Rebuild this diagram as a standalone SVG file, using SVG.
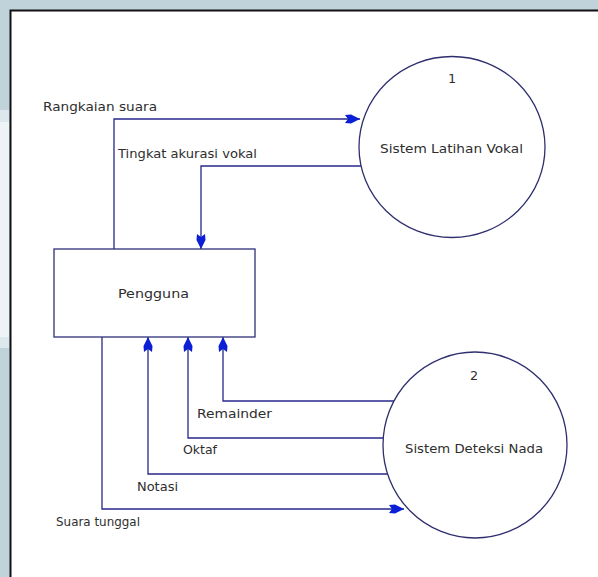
<svg xmlns="http://www.w3.org/2000/svg" width="598" height="577" viewBox="0 0 598 577">
<style>
  .lbl { font-family: "DejaVu Sans", Verdana, sans-serif; font-size: 12.8px; fill: #2e2e2e; }
  .flow { fill: none; stroke: #28288a; stroke-width: 1.3; marker-end: url(#arr); }
  .proc { fill: #ffffff; stroke: #2e2e6e; stroke-width: 1.3; }
  .ent { fill: #ffffff; stroke: #2e2e7a; stroke-width: 1.3; }
</style>
<defs>
  <marker id="arr" markerUnits="userSpaceOnUse" markerWidth="18" markerHeight="12" viewBox="-16 -6 18 12" refX="0" refY="0" orient="auto" overflow="visible">
    <path d="M0,0 L-9,-4.5 L-15,-4 L-12,0 L-15,4 L-9,4.5 Z" fill="#0b1fd6"/>
  </marker>
</defs>
<rect x="0" y="0" width="598" height="577" fill="#c0d3da"/>
<rect x="0" y="110" width="9" height="238" fill="#eef4f6"/>
<rect x="0" y="110" width="9" height="12" fill="#dce8ee"/>
<rect x="0" y="337" width="9" height="11" fill="#dce8ee"/>
<rect x="10.5" y="10.5" width="600" height="600" fill="#ffffff" stroke="#111111" stroke-width="2"/>

<g id="connectors">
  <path class="flow" d="M114,249 V119 H360"/>
  <path class="flow" d="M361,166 H201 V249"/>
  <path class="flow" d="M394,401 H223 V337"/>
  <path class="flow" d="M383,438 H188 V337"/>
  <path class="flow" d="M388,474 H148 V337"/>
  <path class="flow" d="M102,337 V509 H404"/>
  <text class="lbl" x="43" y="111" textLength="114" lengthAdjust="spacingAndGlyphs">Rangkaian suara</text>
  <text class="lbl" x="118" y="158" textLength="139" lengthAdjust="spacingAndGlyphs">Tingkat akurasi vokal</text>
  <text class="lbl" x="197" y="418" textLength="75" lengthAdjust="spacingAndGlyphs">Remainder</text>
  <text class="lbl" x="183" y="454" textLength="34" lengthAdjust="spacingAndGlyphs">Oktaf</text>
  <text class="lbl" x="137" y="491" textLength="41" lengthAdjust="spacingAndGlyphs">Notasi</text>
  <text class="lbl" x="56" y="526" textLength="84" lengthAdjust="spacingAndGlyphs">Suara tunggal</text>
</g>

<g id="proc1">
  <ellipse class="proc" cx="452" cy="147" rx="93" ry="90.5"/>
  <text class="lbl" x="452" y="83" text-anchor="middle">1</text>
  <text class="lbl" x="380" y="153" textLength="143" lengthAdjust="spacingAndGlyphs">Sistem Latihan Vokal</text>
</g>

<g id="proc2">
  <ellipse class="proc" cx="475" cy="445" rx="92" ry="93"/>
  <text class="lbl" x="474" y="380" text-anchor="middle">2</text>
  <text class="lbl" x="405" y="453" textLength="138" lengthAdjust="spacingAndGlyphs">Sistem Deteksi Nada</text>
</g>

<g id="pengguna">
  <rect class="ent" x="54" y="249" width="201" height="88"/>
  <text class="lbl" x="118" y="298" textLength="71" lengthAdjust="spacingAndGlyphs">Pengguna</text>
</g>
</svg>
